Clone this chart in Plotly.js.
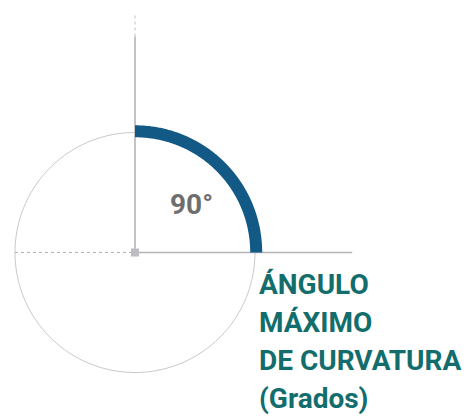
<!DOCTYPE html>
<html>
<head>
<meta charset="utf-8">
<script src="https://cdn.plot.ly/plotly-3.0.1.min.js"></script>
<style>html,body{margin:0;padding:0;background:#fff;}#chart{width:469px;height:416px;}</style>
</head>
<body>
<div id="chart"></div>
<script>
// Data
var angleValue = 90;              // degrees (maximum curvature angle)
var angleLabel = ["90°"];
var titleLines = ["ÁNGULO", "MÁXIMO", "DE CURVATURA", "(Grados)"];

// Helpers
function arcPoints(fromDeg, toDeg, r) {
  var xs = [], ys = [];
  var n = 180;
  for (var i = 0; i <= n; i++) {
    var t = (fromDeg + (toDeg - fromDeg) * i / n) * Math.PI / 180;
    xs.push(r * Math.cos(t));
    ys.push(r * Math.sin(t));
  }
  return {x: xs, y: ys};
}

var circle = arcPoints(0, 360, 1);
var arc = arcPoints(0, angleValue, 1.01);

var traces = [
  {x: circle.x, y: circle.y, mode: 'lines', line: {color: '#c9c9c9', width: 1, simplify: false}, hoverinfo: 'skip'},
  {x: [-1, 0], y: [0, 0], mode: 'lines', line: {color: '#b0b0b0', width: 1, dash: 'dot'}, hoverinfo: 'skip'},
  {x: [0, 1.81], y: [0, 0], mode: 'lines', line: {color: '#b4b4b8', width: 1.5}, hoverinfo: 'skip'},
  {x: [0, 0], y: [0, 1.80], mode: 'lines', line: {color: '#b0b0b4', width: 1.5}, hoverinfo: 'skip'},
  {x: [0, 0], y: [1.80, 1.99], mode: 'lines', line: {color: '#c0c0c0', width: 1, dash: 'dot'}, hoverinfo: 'skip'},
  {x: arc.x, y: arc.y, mode: 'lines', line: {color: '#125a85', width: 12, simplify: false}, hoverinfo: 'skip'},
  {x: [0], y: [0], mode: 'markers', marker: {symbol: 'square', size: 8, color: '#bcbcc2'}, hoverinfo: 'skip'}
];

var annotations = [{
  x: 0.47, y: 0.40, text: '<b>' + angleLabel[0] + '</b>', showarrow: false,
  font: {family: 'Roboto, Arial, sans-serif', size: 28, color: '#6e6e6e'},
  xanchor: 'center', yanchor: 'middle'
}];
var baselinesPx = [294, 332, 370, 408];
titleLines.forEach(function (t, i) {
  annotations.push({
    x: 1.02, y: (252.5 - (baselinesPx[i] - 10)) / 120,
    text: '<b>' + t + '</b>', showarrow: false,
    font: {family: 'Roboto, Arial, sans-serif', size: 28, color: '#126d6c'},
    xanchor: 'left', yanchor: 'middle', align: 'left'
  });
});

var layout = {
  width: 469, height: 416,
  margin: {l: 0, r: 0, t: 0, b: 0},
  paper_bgcolor: '#ffffff', plot_bgcolor: '#ffffff',
  showlegend: false,
  xaxis: {range: [-135 / 120, (469 - 135) / 120], visible: false, fixedrange: true},
  yaxis: {range: [-(416 - 252.5) / 120, 252.5 / 120], visible: false, fixedrange: true},
  annotations: annotations
};

Plotly.newPlot('chart', traces, layout, {staticPlot: true, displayModeBar: false});
</script>
</body>
</html>
